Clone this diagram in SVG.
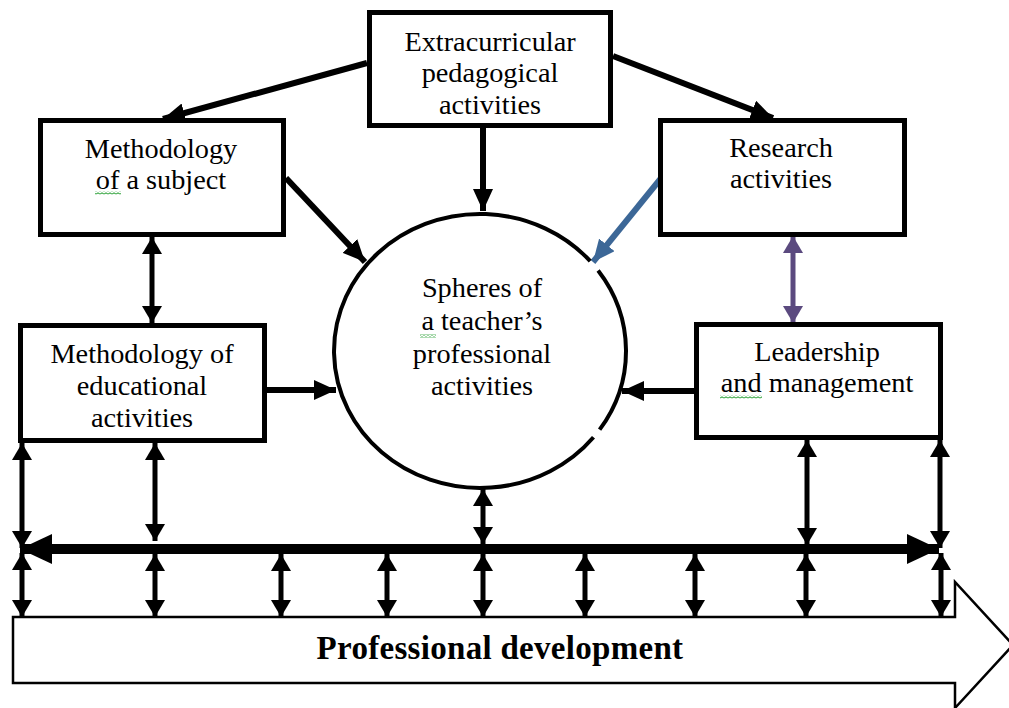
<svg xmlns="http://www.w3.org/2000/svg" width="1009" height="708" viewBox="0 0 1009 708">
  <style>
    .box { fill: #fff; stroke: #000; stroke-width: 5; }
    .lbl { font-family: "Liberation Serif", "Times New Roman", serif; font-size: 28.3px; fill: #000; text-anchor: middle; }
    .big { font-family: "Liberation Serif", "Times New Roman", serif; font-size: 33px; font-weight: bold; fill: #000; text-anchor: middle; letter-spacing: 0.3px; }
    .conn { fill: none; stroke: #000; stroke-width: 6; }
    .dbl { fill: none; stroke: #000; stroke-width: 5; marker-start: url(#hs); marker-end: url(#hs); }
    .squig { fill: url(#wave); }
  </style>
  <defs>
    <marker id="h" markerUnits="userSpaceOnUse" markerWidth="22" markerHeight="20" refX="22" refY="10" orient="auto">
      <path d="M0,0 L22,10 L0,20 z" fill="#000"/>
    </marker>
    <marker id="hs" markerUnits="userSpaceOnUse" markerWidth="17" markerHeight="20" refX="17" refY="10" orient="auto-start-reverse">
      <path d="M0,0 L17,10 L0,20 z" fill="#000"/>
    </marker>
    <marker id="hb" markerUnits="userSpaceOnUse" markerWidth="32" markerHeight="30" refX="32" refY="15" orient="auto-start-reverse">
      <path d="M0,0 L32,15 L0,30 z" fill="#000"/>
    </marker>
    <marker id="hblue" markerUnits="userSpaceOnUse" markerWidth="22" markerHeight="20" refX="22" refY="10" orient="auto">
      <path d="M0,0 L22,10 L0,20 z" fill="#3c6797"/>
    </marker>
    <marker id="hpurple" markerUnits="userSpaceOnUse" markerWidth="17" markerHeight="20" refX="17" refY="10" orient="auto-start-reverse">
      <path d="M0,0 L17,10 L0,20 z" fill="#5b4a7f"/>
    </marker>
    <pattern id="wave" patternUnits="userSpaceOnUse" width="4" height="3">
      <path d="M0,2.2 L2,0.8 L4,2.2" fill="none" stroke="#3aa845" stroke-width="1.1"/>
    </pattern>
  </defs>

  <!-- professional development band -->
  <g id="professional-development">
    <path d="M13,617 L955,617 L955,582 L1013,645 L955,708 L955,683 L13,683 Z" fill="#fff" stroke="#000" stroke-width="2.5"/>
    <text class="big" x="500" y="659">Professional development</text>
  </g>

  <!-- connectors -->
  <g id="connectors">
    <line class="conn" x1="367" y1="63" x2="163" y2="119" marker-end="url(#h)"/>
    <line class="conn" x1="613" y1="56" x2="773" y2="118" marker-end="url(#h)"/>
    <line class="conn" x1="483" y1="128" x2="483" y2="211" marker-end="url(#h)"/>
    <line class="conn" x1="286" y1="178" x2="365" y2="262" marker-end="url(#h)"/>
    <line x1="662" y1="177" x2="593" y2="262" stroke="#3c6797" stroke-width="6" marker-end="url(#hblue)"/>
    <line class="conn" x1="267" y1="390" x2="336" y2="390" marker-end="url(#h)"/>
    <line class="conn" x1="694" y1="391" x2="622" y2="391" marker-end="url(#h)"/>

    <line class="dbl" x1="152" y1="237" x2="152" y2="323"/>
    <line x1="793" y1="236" x2="793" y2="323" stroke="#5b4a7f" stroke-width="5" marker-start="url(#hpurple)" marker-end="url(#hpurple)"/>

    <!-- vertical links down to the main axis -->
    <line class="dbl" x1="22" y1="443" x2="22" y2="548"/>
    <line class="dbl" x1="155" y1="443" x2="155" y2="541"/>
    <line class="dbl" x1="483" y1="489" x2="483" y2="544"/>
    <line class="dbl" x1="807" y1="440" x2="807" y2="545"/>
    <line class="dbl" x1="940" y1="440" x2="940" y2="548"/>

    <!-- main horizontal axis -->
    <line x1="20" y1="549" x2="939" y2="549" stroke="#000" stroke-width="10" marker-start="url(#hb)" marker-end="url(#hb)"/>

    <!-- links from the axis to professional development -->
    <line class="dbl" x1="22" y1="553" x2="22" y2="617"/>
    <line class="dbl" x1="155" y1="554" x2="155" y2="617"/>
    <line class="dbl" x1="281" y1="554" x2="281" y2="617"/>
    <line class="dbl" x1="387" y1="554" x2="387" y2="617"/>
    <line class="dbl" x1="483" y1="554" x2="483" y2="617"/>
    <line class="dbl" x1="585" y1="554" x2="585" y2="617"/>
    <line class="dbl" x1="695" y1="554" x2="695" y2="617"/>
    <line class="dbl" x1="806" y1="554" x2="806" y2="617"/>
    <line class="dbl" x1="941" y1="553" x2="941" y2="617"/>
  </g>

  <g id="extracurricular">
    <rect class="box" x="369.5" y="12.5" width="241" height="113"/>
    <text class="lbl" x="490" y="50.5">Extracurricular</text>
    <text class="lbl" x="490" y="82">pedagogical</text>
    <text class="lbl" x="490" y="113.5">activities</text>
  </g>

  <g id="methodology-subject">
    <rect class="box" x="40.5" y="120.5" width="243" height="114"/>
    <text class="lbl" x="161" y="158">Methodology</text>
    <text class="lbl" x="161" y="189">of a subject</text>
    <rect class="squig" x="95" y="191.5" width="26" height="3"/>
  </g>

  <g id="research">
    <rect class="box" x="660.5" y="120.5" width="244" height="114"/>
    <text class="lbl" x="781" y="157">Research</text>
    <text class="lbl" x="781" y="188">activities</text>
  </g>

  <g id="methodology-educational">
    <rect class="box" x="20.5" y="325.5" width="244" height="115"/>
    <text class="lbl" x="142" y="363">Methodology of</text>
    <text class="lbl" x="142" y="395">educational</text>
    <text class="lbl" x="142" y="427">activities</text>
  </g>

  <g id="leadership">
    <rect class="box" x="696.5" y="324.5" width="244" height="113"/>
    <text class="lbl" x="817" y="361">Leadership</text>
    <text class="lbl" x="817" y="392">and management</text>
    <rect class="squig" x="720" y="395.5" width="42" height="3"/>
  </g>

  <g id="spheres">
    <path d="M598.1,270.5 A146,137 0 0 1 599.6,429.6 M593.5,437.2 A146,137 0 1 1 590.2,261.1" fill="none" stroke="#000" stroke-width="4"/>
    <text class="lbl" x="482" y="297">Spheres of</text>
    <text class="lbl" x="482" y="330">a teacher’s</text>
    <text class="lbl" x="482" y="363">professional</text>
    <text class="lbl" x="482" y="395">activities</text>
    <rect class="squig" x="420" y="334.5" width="16" height="3"/>
  </g>
</svg>
